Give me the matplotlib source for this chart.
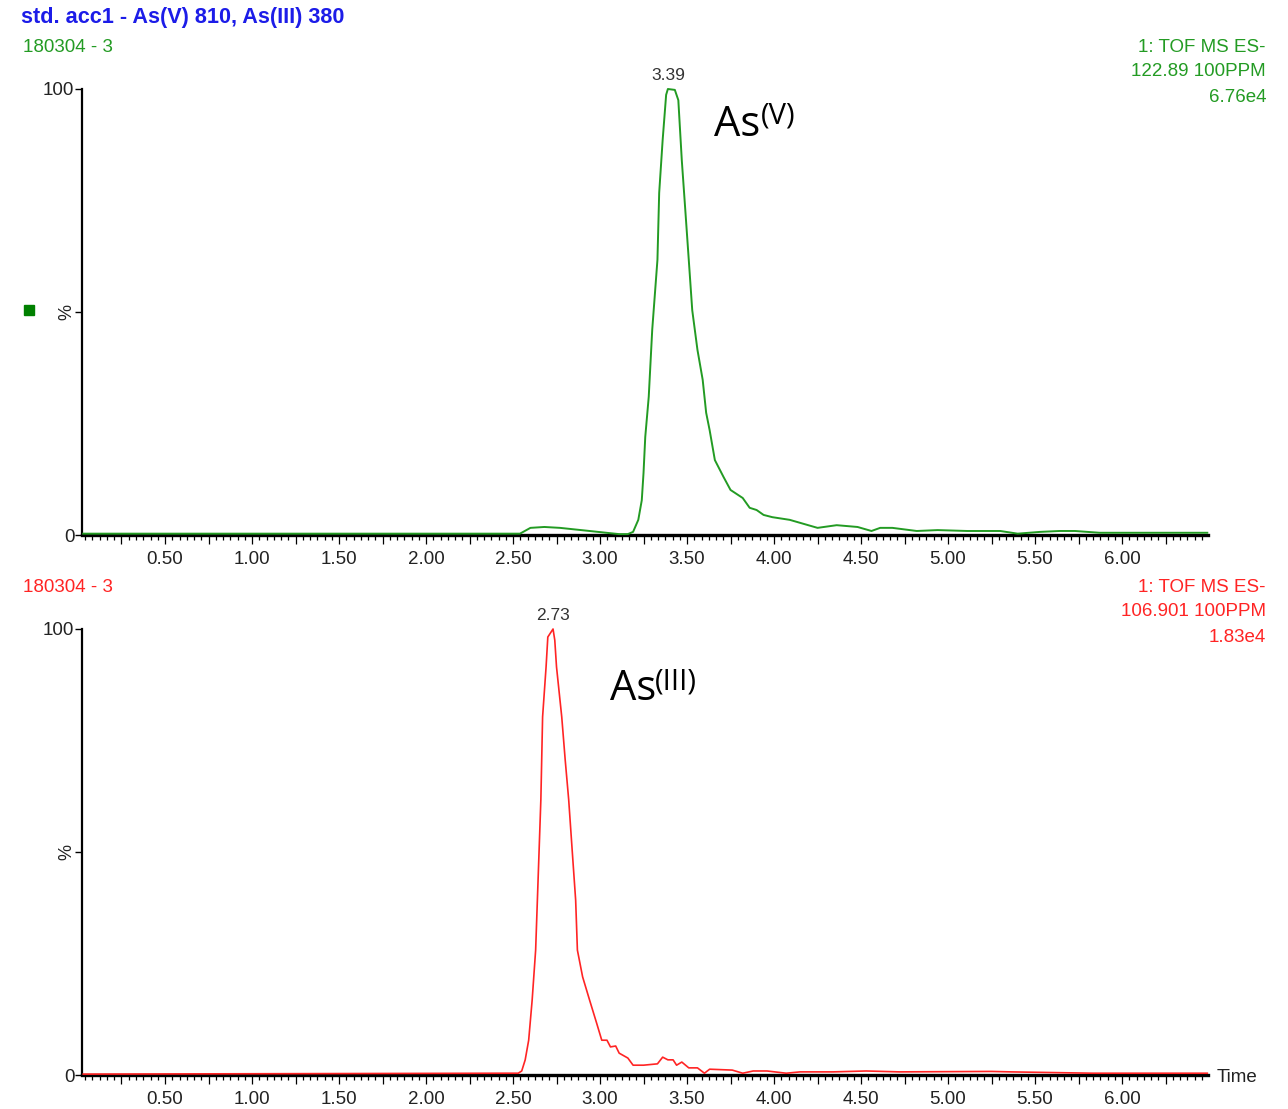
import matplotlib.pyplot as plt
from matplotlib.patches import Rectangle
from matplotlib.ticker import MultipleLocator, FuncFormatter

# As(V) trace, channel 122.89 (relative intensity, %)
as5_time = [0.03, 2.54, 2.60, 2.68, 2.77, 2.94, 3.06, 3.11, 3.16, 3.19, 3.22, 3.24,
            3.25, 3.26, 3.28, 3.30, 3.33, 3.34, 3.36, 3.38, 3.39, 3.43, 3.45, 3.47,
            3.49, 3.51, 3.53, 3.56, 3.59, 3.61, 3.63, 3.66, 3.71, 3.75, 3.82, 3.86,
            3.90, 3.94, 3.99, 4.09, 4.17, 4.25, 4.36, 4.48, 4.56, 4.61, 4.68, 4.82,
            4.94, 5.11, 5.30, 5.40, 5.53, 5.64, 5.73, 5.87, 6.49]
as5_pct = [0.3, 0.3, 1.6, 1.8, 1.6, 0.9, 0.4, 0.2, 0.2, 0.7, 3.4, 7.8,
           13.9, 22.0, 31.0, 46.0, 61.7, 76.7, 88.6, 98.7, 100.0, 99.8, 97.5, 84.0,
           72.9, 61.7, 50.4, 41.5, 34.8, 27.4, 23.5, 16.8, 13.0, 10.1, 8.3, 6.1,
           5.6, 4.5, 4.0, 3.4, 2.5, 1.6, 2.2, 1.8, 0.9, 1.6, 1.6, 0.9,
           1.1, 0.9, 0.9, 0.3, 0.7, 0.9, 0.9, 0.5, 0.5]

# As(III) trace, channel 106.901
as3_time = [0.03, 2.47, 2.53, 2.55, 2.57, 2.59, 2.61, 2.63, 2.64, 2.66, 2.67, 2.69,
            2.70, 2.73, 2.74, 2.75, 2.78, 2.80, 2.82, 2.84, 2.86, 2.87, 2.90, 2.94,
            2.98, 3.01, 3.04, 3.06, 3.09, 3.11, 3.16, 3.19, 3.25, 3.33, 3.36, 3.39,
            3.42, 3.44, 3.47, 3.51, 3.56, 3.60, 3.63, 3.76, 3.82, 3.88, 3.96, 4.07,
            4.15, 4.34, 4.53, 4.72, 5.25, 5.36, 5.83, 6.49]
as3_pct = [0.2, 0.4, 0.4, 0.9, 3.4, 7.8, 16.8, 28.0, 39.2, 61.7, 80.3, 91.5,
           98.2, 100.0, 97.5, 91.5, 80.3, 70.6, 61.7, 50.4, 39.2, 28.0, 22.0, 16.8,
           11.7, 7.8, 7.8, 6.3, 6.5, 4.9, 3.8, 2.2, 2.2, 2.5, 4.0, 3.4,
           3.4, 2.2, 2.9, 1.6, 1.6, 0.4, 1.3, 1.1, 0.4, 0.9, 0.9, 0.4,
           0.7, 0.7, 0.9, 0.7, 0.8, 0.7, 0.4, 0.4]

as5_peak = 3.39
as3_peak = 2.73

title = "std. acc1 - As(V) 810, As(III) 380"
sample = "180304 - 3"
as5_info = ["1: TOF MS ES-", "122.89 100PPM", "6.76e4"]
as3_info = ["1: TOF MS ES-", "106.901 100PPM", "1.83e4"]

W, H = 1288, 1109
GREEN = "#239b23"
RED = "#ff2424"
BLUE = "#1c1ce8"
FONT = ["Liberation Sans", "DejaVu Sans"]


def px(x, y):
    return x / W, 1 - y / H


def tick_fmt(v, _):
    if v > 0.1 and abs(v * 2 - round(v * 2)) < 1e-6:
        return f"{v:.2f}"
    return ""


def style_axes(ax):
    ax.set_xlim(0.023, 6.494)
    ax.set_ylim(0, 100)
    for s in ["top", "right"]:
        ax.spines[s].set_visible(False)
    ax.spines["left"].set_linewidth(1.6)
    ax.spines["bottom"].set_linewidth(2.4)
    ax.xaxis.set_major_locator(MultipleLocator(0.25))
    ax.xaxis.set_minor_locator(MultipleLocator(1 / 24))
    ax.xaxis.set_major_formatter(FuncFormatter(tick_fmt))
    ax.tick_params(axis="x", which="major", length=6.5, width=0.9, pad=5,
                   labelsize=13.5, labelcolor="#222222")
    ax.tick_params(axis="x", which="minor", length=3.6, width=0.9)
    ax.set_yticks([0, 50, 100])
    ax.set_yticklabels(["0", "", "100"])
    ax.tick_params(axis="y", length=5, width=1.0, pad=0.5,
                   labelsize=13.5, labelcolor="#222222")
    for lab in ax.get_xticklabels() + ax.get_yticklabels():
        lab.set_family(FONT)
    ax.text(-0.0135, 0.5, "%", rotation=90, transform=ax.transAxes,
            ha="center", va="center", fontsize=13, color="#222222", family=FONT)


def main():
    fig = plt.figure(figsize=(W / 100, H / 100), dpi=100)

    ax1 = fig.add_axes([82 / W, 574 / H, 1126 / W, 446 / H])
    ax2 = fig.add_axes([82 / W, 34 / H, 1126 / W, 446 / H])

    ax1.plot(as5_time, as5_pct, color=GREEN, lw=1.4, clip_on=False, zorder=3)
    ax2.plot(as3_time, as3_pct, color=RED, lw=1.2, clip_on=False, zorder=3)

    for ax in (ax1, ax2):
        style_axes(ax)

    # peak retention time labels
    ax1.annotate(f"{as5_peak:.2f}", (as5_peak, 100), xytext=(0, 4),
                 textcoords="offset points", ha="center", va="bottom",
                 fontsize=12.5, color="#333333", family=FONT)
    ax2.annotate(f"{as3_peak:.2f}", (as3_peak, 100), xytext=(0, 4),
                 textcoords="offset points", ha="center", va="bottom",
                 fontsize=12.5, color="#333333", family=FONT)

    # header texts
    fig.text(*px(21, 17), title, color=BLUE, fontsize=15.6, fontweight="bold",
             family=FONT, va="center")
    fig.text(*px(23, 47), sample, color=GREEN, fontsize=13.5, family=FONT,
             va="center")
    fig.text(*px(23, 587), sample, color=RED, fontsize=13.5, family=FONT,
             va="center")
    for i, line in enumerate(as5_info):
        fig.text(*px(1266, 47 + 25 * i), line, color=GREEN, fontsize=13.5,
                 family=FONT, ha="right", va="center")
    for i, line in enumerate(as3_info):
        fig.text(*px(1266, 587 + 25 * i), line, color=RED, fontsize=13.5,
                 family=FONT, ha="right", va="center")

    fig.text(*px(1217, 1077), "Time", color="#222222", fontsize=13.5,
             family=FONT, va="center")

    # green trace marker
    x0, y0 = px(24, 315)
    fig.add_artist(Rectangle((x0, y0), 10 / W, 10 / H, color="#008000",
                             transform=fig.transFigure))

    # species labels
    big = ["Open Sans", "DejaVu Sans"]
    fig.text(*px(714, 136), "As", fontsize=30, family=big, va="baseline")
    fig.text(*px(761, 124), "(V)", fontsize=21, family=big, va="baseline")
    fig.text(*px(610, 700), "As", fontsize=30, family=big, va="baseline")
    fig.text(*px(655, 689), "(III)", fontsize=21, family=big, va="baseline")

    fig.savefig("out.png", dpi=100)


if __name__ == "__main__":
    main()
